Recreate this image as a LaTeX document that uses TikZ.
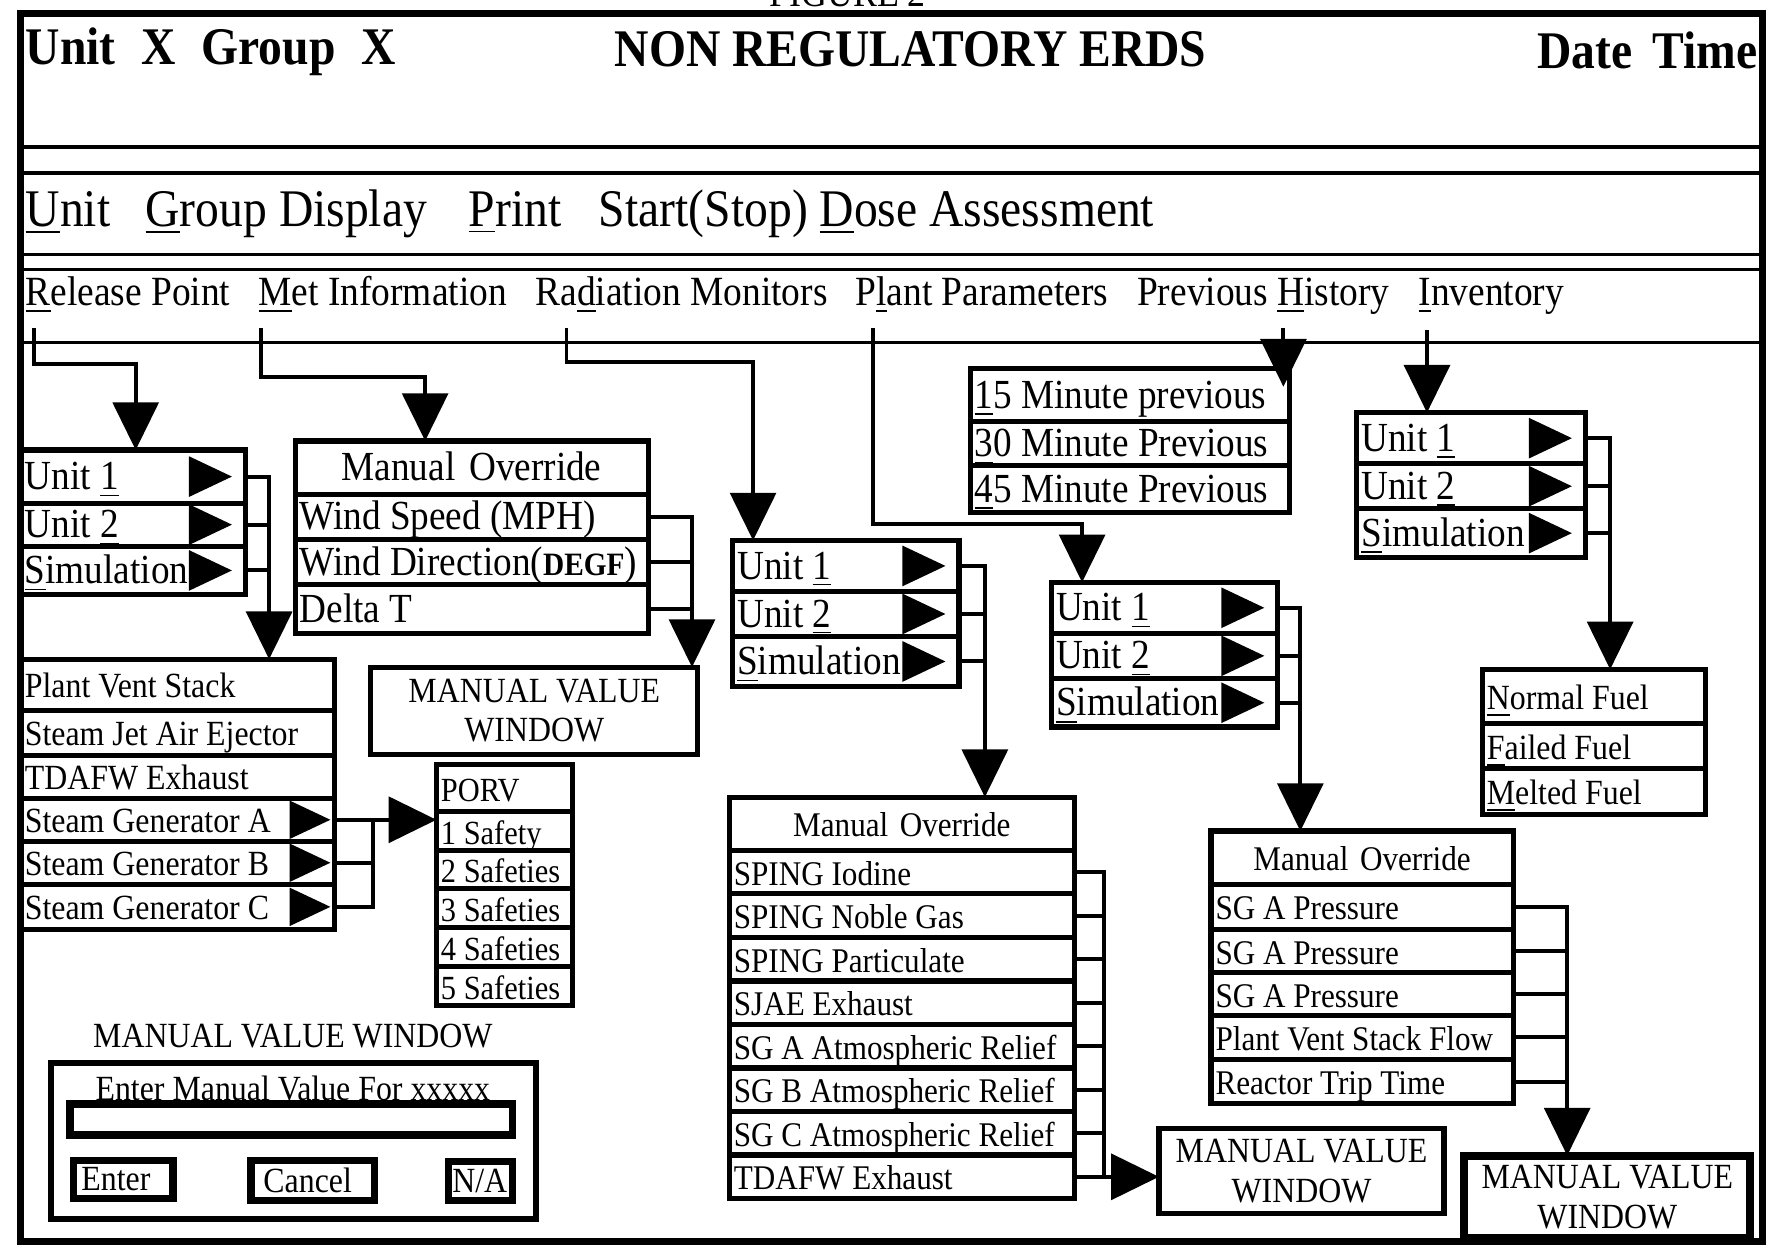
\documentclass[tikz,border=0pt]{standalone}
\usepackage{fontspec}
\setmainfont{Liberation Serif}[FakeStretch=0.9]
\usetikzlibrary{arrows.meta}

\tikzset{
  cell/.style={draw, line width=1.3pt, anchor=north west, outer sep=0pt,
    inner xsep=0.04cm, inner ysep=0pt, text width=#1, align=flush left,
    text height=0.66em, text depth=0pt},
  mvw/.style={draw, line width=1.3pt, outer sep=0pt, inner sep=0pt, align=center, smalltext},
  btn/.style={draw, line width=1.8pt, anchor=north west, outer sep=0pt, inner ysep=0pt, align=flush left, smalltext},
  bigtext/.style={font=\fontsize{10.4}{12}\selectfont},
  smalltext/.style={font=\fontsize{8.9}{10}\selectfont},
  listtext/.style={font=\fontsize{8.7}{10}\selectfont},
  headtext/.style={inner sep=0pt, font=\bfseries\fontsize{13.3}{15}\selectfont},
  menutext/.style={anchor=base west, inner sep=0pt, font=\fontsize{13.3}{15}\selectfont},
  tabtext/.style={anchor=base west, inner sep=0pt, font=\fontsize{10.45}{12}\selectfont},
  conn/.style={line width=1pt},
  feed/.style={conn, -{Triangle[length=12pt,width=11.5pt]}},
}

\begin{document}
\begin{tikzpicture}[x=0.01cm, y=-0.01cm]
  \useasboundingbox (0,0) rectangle (1568,1104);
  \node[anchor=base west, inner sep=0pt, font=\fontsize{10}{12}\selectfont] (fig) at (680,6) {FIGURE 2};

  % screen frame and header rules
  \draw[line width=1.8pt] (18,12) rectangle (1559,1098);
  \draw[line width=1.1pt] (18,130) -- (1559,130);
  \foreach \y in {153,225,238,303}
    \draw[line width=0.8pt] (18,\y) -- (1559,\y);

  \node[headtext, anchor=base west] (unitgrp) at (22,57) {Unit\hspace{6.5pt}X\hspace{6.5pt}Group\hspace{6.5pt}X};
  \node[headtext, anchor=base west] (title) at (543,59) {NON REGULATORY ERDS};
  \node[headtext, anchor=base east] (datetime) at (1555,61) {Date\hspace{5pt}Time};

  \node[menutext] (unitmenu) at (22,200) {\underline{U}nit};
  \node[menutext] (groupmenu) at (128,200) {\underline{G}roup Display};
  \node[menutext] (printmenu) at (414,200) {\underline{P}rint};
  \node[menutext] (dosemenu) at (529,200) {Start(Stop) \underline{D}ose Assessment};

  \node[tabtext] (reltab) at (22,270) {\underline{R}elease Point};
  \node[tabtext] (mettab) at (228,270) {\underline{M}et Information};
  \node[tabtext] (radtab) at (473,270) {Ra\underline{d}iation Monitors};
  \node[tabtext] (planttab) at (756,270) {P\underline{l}ant Parameters};
  \node[tabtext] (histtab) at (1005,270) {Previous \underline{H}istory};
  \node[tabtext] (invtab) at (1254,270) {\underline{I}nventory};

  % release point
  \node[cell=1.91cm, minimum height=0.47cm, bigtext] (relA) at (18,398) {Unit \underline{1}};
  \node[cell=1.91cm, minimum height=0.38cm, bigtext] (relB) at (18,445) {Unit \underline{2}};
  \node[cell=1.91cm, minimum height=0.43cm, bigtext] (relC) at (18,483) {\underline{S}imulation};

  \node[cell=2.70cm, minimum height=0.45cm, smalltext] (vent1) at (18,583) {Plant Vent Stack};
  \node[cell=2.70cm, minimum height=0.40cm, smalltext] (vent2) at (18,628) {Steam Jet Air Ejector};
  \node[cell=2.70cm, minimum height=0.38cm, smalltext] (vent3) at (18,668) {TDAFW Exhaust};
  \node[cell=2.70cm, minimum height=0.38cm, smalltext] (sgA) at (18,706) {Steam Generator A};
  \node[cell=2.70cm, minimum height=0.38cm, smalltext] (sgB) at (18,744) {Steam Generator B};
  \node[cell=2.70cm, minimum height=0.40cm, smalltext] (sgC) at (18,782) {Steam Generator C};

  \node[cell=1.12cm, minimum height=0.42cm, font=\fontsize{8.5}{10}\selectfont] (porv0) at (386,676) {PORV};
  \node[cell=1.12cm, minimum height=0.34cm, font=\fontsize{8.5}{10}\selectfont] (porv1) at (386,718) {1 Safety};
  \node[cell=1.12cm, minimum height=0.34cm, font=\fontsize{8.5}{10}\selectfont] (porv2) at (386,752) {2 Safeties};
  \node[cell=1.12cm, minimum height=0.34cm, font=\fontsize{8.5}{10}\selectfont] (porv3) at (386,786) {3 Safeties};
  \node[cell=1.12cm, minimum height=0.35cm, font=\fontsize{8.5}{10}\selectfont] (porv4) at (386,820) {4 Safeties};
  \node[cell=1.12cm, minimum height=0.34cm, font=\fontsize{8.5}{10}\selectfont] (porv5) at (386,855) {5 Safeties};

  % met information
  \node[cell=3.04cm, minimum height=0.47cm, bigtext, align=center] (met0) at (261,390) {Manual Override};
  \node[cell=3.04cm, minimum height=0.40cm, bigtext] (met1) at (261,437) {Wind Speed (MPH)};
  \node[cell=3.04cm, minimum height=0.40cm, bigtext] (met2) at (261,477) {Wind Direction({\bfseries\fontsize{8.2}{10}\selectfont DEGF})};
  \node[cell=3.04cm, minimum height=0.43cm, bigtext] (met3) at (261,517) {Delta T};
  \node[mvw, minimum width=2.89cm, minimum height=0.77cm] (mvw1) at (472.5,628.5) {MANUAL VALUE\\WINDOW};

  % radiation monitors
  \node[cell=1.92cm, minimum height=0.45cm, bigtext] (raduA) at (648,478) {Unit \underline{1}};
  \node[cell=1.92cm, minimum height=0.40cm, bigtext] (raduB) at (648,523) {Unit \underline{2}};
  \node[cell=1.92cm, minimum height=0.44cm, bigtext] (raduC) at (648,563) {\underline{S}imulation};

  \node[cell=2.97cm, minimum height=0.47cm, listtext, align=center] (radl0) at (645,705) {Manual Override};
  \node[cell=2.97cm, minimum height=0.385cm, listtext] (radl1) at (645,752) {SPING Iodine};
  \node[cell=2.97cm, minimum height=0.385cm, listtext] (radl2) at (645,790.5) {SPING Noble Gas};
  \node[cell=2.97cm, minimum height=0.385cm, listtext] (radl3) at (645,829) {SPING Particulate};
  \node[cell=2.97cm, minimum height=0.385cm, listtext] (radl4) at (645,867.5) {SJAE Exhaust};
  \node[cell=2.97cm, minimum height=0.385cm, listtext] (radl5) at (645,906) {SG A Atmospheric Relief};
  \node[cell=2.97cm, minimum height=0.385cm, listtext] (radl6) at (645,944.5) {SG B Atmospheric Relief};
  \node[cell=2.97cm, minimum height=0.385cm, listtext] (radl7) at (645,983) {SG C Atmospheric Relief};
  \node[cell=2.97cm, minimum height=0.385cm, listtext] (radl8) at (645,1021.5) {TDAFW Exhaust};
  \node[mvw, minimum width=2.52cm, minimum height=0.75cm] (mvw2) at (1151,1035.5) {MANUAL VALUE\\WINDOW};

  % plant parameters
  \node[cell=1.92cm, minimum height=0.45cm, bigtext] (plantuA) at (930,515) {Unit \underline{1}};
  \node[cell=1.92cm, minimum height=0.40cm, bigtext] (plantuB) at (930,560) {Unit \underline{2}};
  \node[cell=1.92cm, minimum height=0.43cm, bigtext] (plantuC) at (930,600) {\underline{S}imulation};

  \node[cell=2.59cm, minimum height=0.47cm, listtext, align=center] (plantl0) at (1071,735) {Manual Override};
  \node[cell=2.59cm, minimum height=0.40cm, listtext] (plantl1) at (1071,782) {SG A Pressure};
  \node[cell=2.59cm, minimum height=0.38cm, listtext] (plantl2) at (1071,822) {SG A Pressure};
  \node[cell=2.59cm, minimum height=0.38cm, listtext] (plantl3) at (1071,860) {SG A Pressure};
  \node[cell=2.59cm, minimum height=0.39cm, listtext] (plantl4) at (1071,898) {Plant Vent Stack Flow};
  \node[cell=2.59cm, minimum height=0.39cm, listtext] (plantl5) at (1071,937) {Reactor Trip Time};
  \node[mvw, line width=2pt, minimum width=2.53cm, minimum height=0.73cm] (mvw3) at (1421.5,1058.5) {MANUAL VALUE\\WINDOW};

  % previous history
  \node[cell=2.74cm, minimum height=0.47cm, bigtext] (hist1) at (858,326) {\underline{1}5 Minute previous};
  \node[cell=2.74cm, minimum height=0.39cm, bigtext] (hist2) at (858,373) {\underline{3}0 Minute Previous};
  \node[cell=2.74cm, minimum height=0.41cm, bigtext] (hist3) at (858,412) {\underline{4}5 Minute Previous};

  % inventory
  \node[cell=1.94cm, minimum height=0.45cm, bigtext] (invuA) at (1200,365) {Unit \underline{1}};
  \node[cell=1.94cm, minimum height=0.40cm, bigtext] (invuB) at (1200,410) {Unit \underline{2}};
  \node[cell=1.94cm, minimum height=0.43cm, bigtext] (invuC) at (1200,450) {\underline{S}imulation};

  \node[cell=1.89cm, minimum height=0.48cm, smalltext] (fuel1) at (1311,592) {\underline{N}ormal Fuel};
  \node[cell=1.89cm, minimum height=0.40cm, smalltext] (fuel2) at (1311,640) {\underline{F}ailed Fuel};
  \node[cell=1.89cm, minimum height=0.40cm, smalltext] (fuel3) at (1311,680) {\underline{M}elted Fuel};

  % manual value window
  \node[anchor=base, inner sep=0pt, smalltext] (dlgtitle) at (259,926) {MANUAL VALUE WINDOW};
  \node[draw, line width=1.5pt, anchor=north west, outer sep=0pt, minimum width=4.29cm, minimum height=1.38cm] (dlg) at (45,940) {};
  \node[anchor=base, inner sep=0pt, smalltext] (prompt) at (259,973) {Enter Manual Value For xxxxx};
  \node[draw, line width=2pt, anchor=north west, outer sep=0pt, minimum width=3.91cm, minimum height=0.28cm] (field) at (62,976) {};
  \node[btn, inner xsep=0.07cm, text width=0.74cm, minimum height=0.34cm] (enterbtn) at (65,1026) {Enter};
  \node[btn, inner xsep=0.11cm, text width=0.87cm, minimum height=0.36cm] (cancelbtn) at (222,1026) {Cancel};
  \node[btn, inner xsep=0.03cm, text width=0.50cm, minimum height=0.35cm] (nabtn) at (397,1027) {N/A};

  % row pointers
  \foreach \r in {relA,relB,relC,raduA,raduB,raduC,plantuA,plantuB,plantuC,invuA,invuB,invuC}
    \fill ([xshift=-0.12cm]\r.east) -- ++(-38,-18) -- ++(0,36) -- cycle;
  \foreach \r in {sgA,sgB,sgC}
    \fill ([xshift=-0.04cm]\r.east) -- ++(-36,-17) -- ++(0,34) -- cycle;

  % connectors
  \coordinate (relsrc) at (30,290);
  \coordinate (metsrc) at (231,290);
  \coordinate (radsrc) at (501,290);
  \coordinate (plantsrc) at (772,290);
  \coordinate (histsrc) at (1135,290);
  \coordinate (invsrc) at (1262,292);
  \coordinate (relin) at (120,398);
  \coordinate (metin) at (376,390);
  \coordinate (radin) at (666,478);
  \coordinate (plantin) at (957,515);
  \coordinate (histin) at (1135,342);
  \coordinate (invin) at (1262,365);
  \coordinate (ventin) at (238,583);
  \coordinate (mvw1in) at (612,590);
  \coordinate (radlin) at (871,705);
  \coordinate (plantlin) at (1150,735);
  \coordinate (fuelin) at (1424,592);
  \coordinate (mvw3in) at (1386,1022);
  \coordinate (ventbus) at (330,700);
  \coordinate (radbus) at (976,1000);

  \draw[feed] (relsrc) -- ++(0,32) -| (relin);
  \draw[feed] (metsrc) -- ++(0,43) -| (metin);
  \draw[feed] (radsrc) -- ++(0,30) -| (radin);
  \draw[feed] (plantsrc) -- ++(0,173) -| (plantin);
  \draw[feed] (histsrc) -- (histin);
  \draw[feed] (invsrc) -- (invin);

  \draw[feed] (relA.east) -| (ventin);
  \draw[conn] (relB.east) -- (relB.east -| ventin);
  \draw[conn] (relC.east) -- (relC.east -| ventin);

  \draw[feed] (sgA.east) -- (sgA.east -| porv1.west);
  \draw[conn] (sgB.east) -| (sgA.east -| ventbus);
  \draw[conn] (sgC.east) -| (sgA.east -| ventbus);

  \draw[feed] (met1.east) -| (mvw1in);
  \draw[conn] (met2.east) -- (met2.east -| mvw1in);
  \draw[conn] (met3.east) -- (met3.east -| mvw1in);

  \draw[feed] (raduA.east) -| (radlin);
  \draw[conn] (raduB.east) -- (raduB.east -| radlin);
  \draw[conn] (raduC.east) -- (raduC.east -| radlin);

  \foreach \r in {radl1,radl2,radl3,radl4,radl5,radl6,radl7}
    \draw[conn] (\r.east) -| (radl8.east -| radbus);
  \draw[feed] (radl8.east) -- (radl8.east -| mvw2.west);

  \draw[feed] (plantuA.east) -| (plantlin);
  \draw[conn] (plantuB.east) -- (plantuB.east -| plantlin);
  \draw[conn] (plantuC.east) -- (plantuC.east -| plantlin);

  \draw[feed] (plantl1.east) -| (mvw3in);
  \foreach \r in {plantl2,plantl3,plantl4,plantl5}
    \draw[conn] (\r.east) -- (\r.east -| mvw3in);

  \draw[feed] (invuA.east) -| (fuelin);
  \draw[conn] (invuB.east) -- (invuB.east -| fuelin);
  \draw[conn] (invuC.east) -- (invuC.east -| fuelin);
\end{tikzpicture}
\end{document}
